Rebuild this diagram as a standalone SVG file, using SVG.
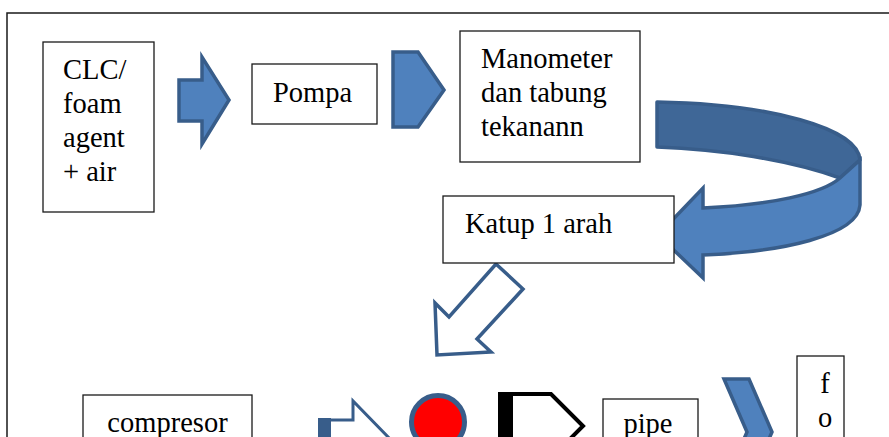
<svg xmlns="http://www.w3.org/2000/svg" width="889" height="437" viewBox="0 0 889 437">
  <style>
    .box { fill: #ffffff; stroke: #1a1a1a; stroke-width: 1.3; }
    .lbl { font-family: "Liberation Serif", "Times New Roman", serif; font-size: 28.5px; fill: #000000; }
    .blk { fill: #4F81BD; stroke: #385D8A; stroke-width: 3.5; stroke-linejoin: miter; }
    .dark { fill: #3F6797; stroke: #385D8A; stroke-width: 3.5; stroke-linejoin: round; }
    .hollow { fill: #ffffff; stroke: #385D8A; stroke-width: 3.5; stroke-linejoin: miter; }
  </style>

  <rect width="889" height="437" fill="#ffffff"/>
  <!-- outer frame -->
  <rect x="7" y="13" width="900" height="450" fill="none" stroke="#1a1a1a" stroke-width="1.5"/>

  <g id="connectors">
    <!-- CLC -> Pompa -->
    <polygon class="blk" points="179,80 202,80 202,57 229,100 202,144 202,121 179,121"/>
    <!-- Pompa -> Manometer -->
    <polygon class="blk" points="393,52 418,52 444,90 418,127 393,127"/>
    <!-- Manometer -> Katup (curved ribbon) -->
    <path class="dark" d="M657,102 C770,104 858,128 860,160 L840,178 C790,160 720,149 657,147 Z"/>
    <path class="blk" stroke-linejoin="round" d="M860,160 L860,205 C858,236 780,252 703,255 L703,278 L658,235 L703,188 L703,208 C770,205 822,194 840,178 Z"/>
    <!-- Katup -> valve (hollow arrow) -->
    <polygon class="hollow" points="496,264 523,289 477,339 491,352 437,355 435,303 449,317"/>
    <!-- compresor -> valve -->
    <rect x="318" y="418" width="13" height="25" fill="#385D8A"/>
    <path d="M330,420 L353,420 L353,401 L392,441" fill="none" stroke="#385D8A" stroke-width="3"/>
    <!-- pipe -> fo -->
    <polygon class="blk" points="724,379 749,379 772,432 749,485 724,485 747,432"/>
  </g>

  <g id="clc">
    <rect class="box" x="43" y="42" width="111" height="170"/>
    <text class="lbl" x="63" y="79">CLC/</text>
    <text class="lbl" x="63" y="113">foam</text>
    <text class="lbl" x="63" y="147">agent</text>
    <text class="lbl" x="63" y="181">+ air</text>
  </g>

  <g id="pompa">
    <rect class="box" x="252" y="64" width="125" height="60"/>
    <text class="lbl" x="273" y="102">Pompa</text>
  </g>

  <g id="manometer">
    <rect class="box" x="460" y="31" width="180" height="131"/>
    <text class="lbl" x="481" y="68">Manometer</text>
    <text class="lbl" x="481" y="102">dan tabung</text>
    <text class="lbl" x="481" y="136">tekanann</text>
  </g>

  <g id="katup">
    <rect class="box" x="443" y="196" width="231" height="67"/>
    <text class="lbl" x="465" y="233">Katup 1 arah</text>
  </g>

  <g id="compresor">
    <rect class="box" x="83" y="395" width="169" height="60"/>
    <text class="lbl" x="167.5" y="432" text-anchor="middle">compresor</text>
  </g>

  <g id="valve">
    <circle cx="438" cy="422" r="26.5" fill="#FF0000" stroke="#385D8A" stroke-width="5"/>
  </g>

  <g id="nozzle">
    <polygon points="506,394 551,394 583,426 551,458 506,458" fill="#ffffff" stroke="#000000" stroke-width="4"/>
    <rect x="498" y="392" width="15" height="60" fill="#000000"/>
  </g>

  <g id="pipe">
    <rect class="box" x="603" y="399" width="95" height="60"/>
    <text class="lbl" x="648" y="433" text-anchor="middle">pipe</text>
  </g>

  <g id="fo">
    <rect class="box" x="797" y="356" width="47" height="120"/>
    <text class="lbl" x="825" y="393" text-anchor="middle">f</text>
    <text class="lbl" x="825" y="427" text-anchor="middle">o</text>
  </g>
</svg>
